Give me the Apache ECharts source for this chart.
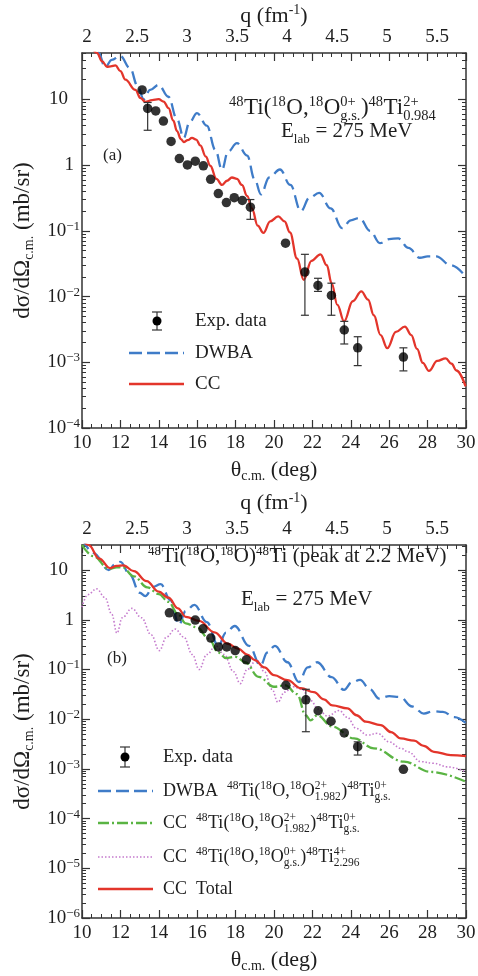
<!DOCTYPE html>
<html><head><meta charset="utf-8">
<script src="https://cdn.jsdelivr.net/npm/echarts@6/dist/echarts.min.js"></script>
<style>html,body{margin:0;padding:0;background:#fff}#c{width:478px;height:976px}</style>
</head><body><div id="c"></div>
<script>
// ---------- data ----------
const thetaTicks = [10,12,14,16,18,20,22,24,26,28,30];
const qTicks = [2,2.5,3,3.5,4,4.5,5,5.5];
const yDecadesA = [1e-4,1e-3,1e-2,1e-1,1,10];
const yDecadesB = [1e-6,1e-5,1e-4,1e-3,1e-2,1e-1,1,10];

// panel (a)
const expA = [[13.13,14],[13.42,7.3],[13.84,6.7],[14.24,4.7],[14.64,2.3],[15.07,1.26],[15.49,1.01],[15.9,1.15],[16.32,0.98],[16.7,0.61],[17.1,0.37],[17.52,0.27],[17.93,0.32],[18.35,0.29],[18.77,0.23],[20.6,0.065],[21.61,0.0236],[22.29,0.0148],[22.99,0.0104],[23.66,0.0031],[24.36,0.00166],[26.74,0.0012]];
const errA = [[13.42,3.4,9],[18.77,0.15,0.3],[21.61,0.0052,0.044],[22.29,0.012,0.019],[22.99,0.0052,0.016],[23.66,0.0019,0.0042],[24.36,0.00089,0.00245],[26.74,0.00074,0.00166]];
const dwbaA = [[10.3,90],[10.85,52],[11.21,31],[11.55,40],[11.99,46],[12.5,30],[12.9,16],[13.21,10.1],[13.55,14],[13.99,16.7],[14.5,11],[14.95,5],[15.3,2.6],[15.6,4.5],[15.99,6.2],[16.5,4],[16.95,1.7],[17.29,0.85],[17.6,1.6],[18.07,2.16],[18.6,1.4],[19.0,0.6],[19.32,0.36],[19.75,0.65],[20.31,0.86],[20.85,0.5],[21.4,0.2],[21.85,0.32],[22.35,0.38],[22.95,0.22],[23.55,0.11],[24.0,0.145],[24.45,0.158],[25.0,0.1],[25.52,0.065],[26.0,0.075],[26.47,0.077],[27.0,0.055],[27.6,0.039],[28.0,0.041],[28.45,0.041],[29.2,0.03],[30.0,0.02]];
const ccA = [[10.3,90],[10.78,51],[11.05,38],[11.3,31.5],[11.5,32],[11.74,33],[12.0,27],[12.26,20],[12.78,14],[13.05,10.5],[13.3,9.2],[13.65,9.8],[13.99,10.1],[14.25,9.3],[14.51,7.4],[14.75,4.8],[14.95,3.3],[15.15,2.5],[15.3,2.25],[15.5,2.4],[15.73,2.6],[15.95,2.45],[16.16,2.0],[16.45,1.35],[16.68,0.98],[17.0,0.62],[17.29,0.5],[17.55,0.58],[17.81,0.65],[18.07,0.62],[18.33,0.5],[18.6,0.34],[18.85,0.22],[19.15,0.12],[19.45,0.093],[19.8,0.14],[20.22,0.166],[20.55,0.14],[20.83,0.095],[21.2,0.038],[21.55,0.018],[21.95,0.035],[22.42,0.044],[22.75,0.03],[23.0,0.016],[23.3,0.0075],[23.65,0.0042],[24.1,0.0085],[24.55,0.012],[24.9,0.009],[25.2,0.0052],[25.55,0.0026],[25.9,0.00164],[26.35,0.0029],[26.82,0.0035],[27.15,0.0026],[27.45,0.0016],[27.75,0.00098],[28.07,0.00074],[28.5,0.00105],[28.94,0.00115],[29.25,0.00095],[29.5,0.00075],[29.98,0.00043]];

// panel (b)
const expB = [[14.55,1.38],[14.98,1.15],[15.9,0.99],[16.3,0.66],[16.71,0.43],[17.11,0.285],[17.54,0.285],[17.98,0.24],[18.56,0.157],[20.62,0.048],[21.66,0.0245],[22.3,0.0148],[22.97,0.0091],[23.66,0.0053],[24.36,0.0028],[26.74,0.00098]];
const errB = [[21.66,0.0056,0.04],[24.36,0.0019,0.0035]];
const dwbaB = [[10.0,45],[10.6,22],[11.4,10],[11.7,13],[12.0,14.7],[12.5,8],[13.0,3.5],[13.3,3.0],[13.7,4.6],[14.1,5.2],[14.6,2.5],[15.05,0.8],[15.4,1.5],[15.85,2.0],[16.5,0.9],[17.1,0.3],[17.5,0.55],[17.95,0.75],[18.7,0.3],[19.3,0.12],[19.65,0.22],[20.05,0.3],[20.7,0.14],[21.3,0.056],[21.75,0.11],[22.25,0.14],[23.0,0.07],[23.65,0.039],[24.05,0.055],[24.48,0.062],[25.0,0.04],[25.47,0.026],[26.0,0.029],[26.55,0.028],[27.2,0.018],[27.8,0.013],[28.3,0.0145],[28.8,0.014],[29.4,0.011],[30.0,0.0083]];
const ccTotB = [[10.0,42],[10.35,31.8],[10.9,17],[11.46,11],[11.8,12.2],[12.15,12.5],[12.7,9.5],[13.37,6.0],[13.99,3.7],[14.5,2.8],[15.0,1.7],[15.4,1.15],[16.1,0.95],[16.9,0.56],[17.6,0.33],[18.15,0.26],[18.6,0.2],[19.0,0.155],[19.5,0.11],[20.0,0.077],[20.7,0.061],[21.4,0.042],[22.08,0.035],[22.6,0.025],[23.04,0.019],[23.83,0.0165],[24.3,0.012],[24.78,0.0089],[25.56,0.0076],[26.1,0.0055],[26.6,0.0041],[27.3,0.0037],[27.8,0.0029],[28.33,0.0022],[29.2,0.0019],[30.0,0.0018]];
const ccGB = [[10.0,32],[10.6,19],[11.4,10.5],[11.8,11.3],[12.1,11.5],[12.7,7.5],[13.4,4.5],[14.0,3.3],[14.5,2.3],[15.0,1.3],[15.4,0.85],[16.0,0.7],[16.6,0.42],[17.1,0.22],[17.5,0.17],[18.0,0.18],[18.5,0.14],[19.2,0.071],[20.0,0.045],[20.6,0.048],[21.2,0.032],[21.65,0.012],[21.9,0.0095],[22.25,0.012],[23.04,0.0071],[24.17,0.0041],[25.2,0.0026],[26.77,0.0014],[28.16,0.00087],[30.0,0.00055]];
const ccMB = [[10.0,1.8],[10.3,3.2],[10.76,4.2],[11.2,2.8],[11.55,1.3],[11.82,0.54],[12.1,1.1],[12.6,1.7],[13.1,1.1],[13.6,0.5],[14.03,0.24],[14.4,0.45],[14.85,0.65],[15.3,0.45],[15.75,0.2],[16.1,0.1],[16.5,0.2],[16.97,0.3],[17.4,0.2],[17.9,0.09],[18.24,0.052],[18.6,0.1],[19.1,0.155],[19.5,0.09],[19.9,0.04],[20.2,0.022],[20.55,0.035],[21.0,0.045],[21.45,0.04],[21.9,0.024],[22.3,0.016],[22.78,0.0115],[23.4,0.015],[23.8,0.011],[24.3,0.0065],[24.86,0.0048],[25.4,0.0052],[26.0,0.0035],[26.6,0.0026],[27.0,0.0022],[27.64,0.0014],[28.3,0.0013],[29.03,0.0011],[30.0,0.00087]];

// ---------- style ----------
const FF = '"Liberation Serif","Times New Roman",serif';
const TXT = '#1e1e1e';
const AX = '#333';
const BLUE = '#3f7cc8', RED = '#e3352b', GREEN = '#5ab443', MAG = '#c57bcd';

const cv = document.createElement('canvas').getContext('2d');
function tw(t, s){ cv.font = s + 'px ' + FF; return cv.measureText(t).width; }
function txt(t, x, base, s){
  return {type:'text', x:x, y:base - 0.34*s, z:100,
    style:{text:t, font:s+'px '+FF, fill:TXT, align:'left', verticalAlign:'middle', textAlign:'left', textVerticalAlign:'middle'}};
}
function formula(parts, x0, base, M, S){
  const els = []; let x = x0;
  for (const p of parts){
    if (typeof p === 'string'){ els.push(txt(p, x, base, M)); x += tw(p, M); }
    else {
      let w = 0;
      if (p.sup){ els.push(txt(p.sup, x, base - 0.40*M, S)); w = Math.max(w, tw(p.sup, S)); }
      if (p.sub){ els.push(txt(p.sub, x, base + 0.22*M, S)); w = Math.max(w, tw(p.sub, S)); }
      x += w + 0.5;
    }
  }
  return els;
}
function lineEl(x1,y1,x2,y2,color,w,dash){
  return {type:'line', z:100, shape:{x1,y1,x2,y2}, style:{stroke:color, lineWidth:w, lineDash:dash||null}};
}
function expMarker(cx, cy, top, bot){
  return [
    lineEl(cx, top, cx, bot, '#333', 1.2),
    lineEl(cx-5, top, cx+5, top, '#333', 1.2),
    lineEl(cx-5, bot, cx+5, bot, '#333', 1.2),
    {type:'circle', z:101, shape:{cx, cy, r:4.5}, style:{fill:'#000'}}
  ];
}

function decLabel(v){
  const l = Math.log10(v), e = Math.round(l);
  if (Math.abs(l - e) > 1e-6) return '';
  if (e === 1) return '{b|10}{p|}';
  if (e === 0) return '{b|1}{q|}';
  return '{b|10}{s|\u2212' + (-e) + '}';
}
const yRich = {
  b:{fontSize:19, fontFamily:FF, color:TXT, lineHeight:22},
  s:{fontSize:13, fontFamily:FF, color:TXT, lineHeight:12, verticalAlign:'top'},
  p:{width:12}, q:{width:6}
};
function minorVals(decades){
  const out = [];
  for (let i = 0; i < decades.length; i++){
    for (let k = 2; k <= 9; k++) out.push(decades[i]*k);
  }
  return out;
}

const G = [
  {left:82, top:53, width:384, height:375, ymin:1e-4, ymax:51, dec:yDecadesA, qGap:23},
  {left:82, top:545, width:384, height:373, ymin:1e-6, ymax:32, dec:yDecadesB, qGap:29}
];

const xAxes = [], yAxes = [];
const nameRich = (va) => ({a:{fontSize:22, fontFamily:FF, color:TXT, lineHeight:25}, s:{fontSize:14, fontFamily:FF, color:TXT, lineHeight:12, verticalAlign:va}});
G.forEach((g, gi) => {
  const common = {gridIndex:gi, type:'value', min:10, max:30, interval:2,
    axisLine:{show:true, lineStyle:{color:AX, width:1.5}},
    splitLine:{show:false}, minorSplitLine:{show:false}};
  xAxes.push(Object.assign({}, common, {position:'bottom',
    axisTick:{show:true, inside:true, length:8, lineStyle:{color:AX, width:1.2}},
    minorTick:{show:true, splitNumber:4, length:4, lineStyle:{color:AX, width:1}},
    axisLabel:{show:true, margin:6, fontSize:19, fontFamily:FF, color:TXT},
    name:'{a|\u03b8}{s|c.m.}{a| (deg)}', nameLocation:'middle', nameGap:30,
    nameTextStyle:{rich:nameRich('bottom')}
  }));
  xAxes.push(Object.assign({}, common, {position:'top',
    axisTick:{show:true, inside:true, length:8, lineStyle:{color:AX, width:1.2}},
    minorTick:{show:true, splitNumber:4, length:4, lineStyle:{color:AX, width:1}},
    axisLabel:{show:false}
  }));
  xAxes.push({gridIndex:gi, type:'value', position:'top', min:1.95, max:5.79,
    axisLine:{show:false}, axisTick:{show:false}, splitLine:{show:false},
    axisLabel:{show:true, margin:6, fontSize:19, fontFamily:FF, color:TXT, customValues:qTicks,
      formatter: v => (Math.abs(v*2 - Math.round(v*2)) < 1e-6 ? String(v) : '')},
    name:'{a|q (fm}{s|-1}{a|)}', nameLocation:'middle', nameGap:g.qGap,
    nameTextStyle:{rich:nameRich('top')}
  });
  const yc = {gridIndex:gi, type:'log', logBase:10, min:g.ymin, max:g.ymax, splitLine:{show:false}, minorSplitLine:{show:false}};
  yAxes.push(Object.assign({}, yc, {position:'left',
    axisLine:{show:true, lineStyle:{color:AX, width:1.5}},
    axisTick:{show:true, inside:true, length:8, customValues:g.dec, lineStyle:{color:AX, width:1.2}},
    axisLabel:{show:true, margin:2, formatter:decLabel, rich:yRich, customValues:g.dec},
    name:'{a|d\u03c3/d\u03a9}{s|c.m.}{a| (mb/sr)}', nameLocation:'middle', nameRotate:90, nameGap:41,
    nameTextStyle:{rich:{a:{fontSize:23, fontFamily:FF, color:TXT, lineHeight:26}, s:{fontSize:14, fontFamily:FF, color:TXT, lineHeight:12, verticalAlign:'bottom'}}}
  }));
  yAxes.push(Object.assign({}, yc, {position:'left', axisLine:{show:false},
    axisTick:{show:true, inside:true, length:4, customValues:minorVals(g.dec), lineStyle:{color:AX, width:1}},
    axisLabel:{show:false}}));
  yAxes.push(Object.assign({}, yc, {position:'right',
    axisLine:{show:true, lineStyle:{color:AX, width:1.5}},
    axisTick:{show:true, inside:true, length:8, customValues:g.dec, lineStyle:{color:AX, width:1.2}},
    axisLabel:{show:false}}));
  yAxes.push(Object.assign({}, yc, {position:'right', axisLine:{show:false},
    axisTick:{show:true, inside:true, length:4, customValues:minorVals(g.dec), lineStyle:{color:AX, width:1}},
    axisLabel:{show:false}}));
});

function lineS(data, xi, yi, color, w, type, z){
  return {type:'line', data, xAxisIndex:xi, yAxisIndex:yi, showSymbol:false, symbol:'none',
    smooth:0.4, smoothMonotone:'x', clip:true, z:z||3, silent:true,
    lineStyle:{color, width:w, type:type||'solid'}};
}
function errS(data, xi, yi){
  return {type:'custom', data, xAxisIndex:xi, yAxisIndex:yi, z:8, silent:true, clip:true,
    encode:{x:0, y:[1,2]},
    renderItem(params, api){
      const x = api.value(0), lo = api.value(1), hi = api.value(2);
      const p1 = api.coord([x, lo]), p2 = api.coord([x, hi]); const c = 4;
      const st = {stroke:'#333', lineWidth:1.2};
      return {type:'group', children:[
        {type:'line', shape:{x1:p1[0], y1:p1[1], x2:p2[0], y2:p2[1]}, style:st},
        {type:'line', shape:{x1:p1[0]-c, y1:p1[1], x2:p1[0]+c, y2:p1[1]}, style:st},
        {type:'line', shape:{x1:p2[0]-c, y1:p2[1], x2:p2[0]+c, y2:p2[1]}, style:st}
      ]};
    }};
}
function expS(data, xi, yi){
  return {type:'scatter', data, xAxisIndex:xi, yAxisIndex:yi, symbol:'circle', symbolSize:9.5, z:10, silent:true,
    itemStyle:{color:'#000'}};
}

const series = [
  lineS(dwbaA, 0, 0, BLUE, 2.3, [13,6], 3),
  lineS(ccA, 0, 0, RED, 2.3, 'solid', 4),
  errS(errA, 0, 0),
  expS(expA, 0, 0),
  lineS(dwbaB, 3, 4, BLUE, 2.3, [13,6], 3),
  lineS(ccMB, 3, 4, MAG, 1.6, [1.5,2], 3),
  lineS(ccGB, 3, 4, GREEN, 2.3, [11,3,2,3], 4),
  lineS(ccTotB, 3, 4, RED, 2.3, 'solid', 5),
  errS(errB, 3, 4),
  expS(expB, 3, 4)
];

// ---------- annotations / legends ----------
let gfx = [];
gfx = gfx.concat(formula([{sup:'48'},'Ti(',{sup:'18'},'O,',{sup:'18'},'O',{sup:'0+',sub:'g.s.'},')',{sup:'48'},'Ti',{sup:'2+',sub:'0.984'}], 229, 116, 23, 14.5));
gfx = gfx.concat(formula(['E',{sub:'lab'},' = 275 MeV'], 281, 139, 21, 13));
gfx.push(txt('(a)', 103, 161, 17));
gfx = gfx.concat(expMarker(157, 321, 312, 330));
gfx.push(txt('Exp. data', 195, 327, 19));
gfx.push(lineEl(129, 353, 184, 353, BLUE, 2.3, [13,5]));
gfx.push(txt('DWBA', 195, 359, 19));
gfx.push(lineEl(129, 384, 184, 384, RED, 2.3));
gfx.push(txt('CC', 195, 390, 19));

gfx = gfx.concat(formula([{sup:'48'},'Ti(',{sup:'18'},'O,',{sup:'18'},'O)',{sup:'48'},'Ti (peak at 2.2 MeV)'], 148, 564, 21, 13));
gfx = gfx.concat(formula(['E',{sub:'lab'},' = 275 MeV'], 241, 607, 21, 13));
gfx.push(txt('(b)', 107, 664, 17));
gfx = gfx.concat(expMarker(125, 757, 747, 767));
gfx.push(txt('Exp. data', 163, 763, 18.5));
gfx.push(lineEl(98, 791, 153, 791, BLUE, 2.3, [13,5]));
gfx = gfx.concat(formula(['DWBA  ',{sup:'48'},'Ti(',{sup:'18'},'O,',{sup:'18'},'O',{sup:'2+',sub:'1.982'},')',{sup:'48'},'Ti',{sup:'0+',sub:'g.s.'}], 163, 797, 18, 11.5));
gfx.push(lineEl(98, 823, 153, 823, GREEN, 2.3, [11,3,2,3]));
gfx = gfx.concat(formula(['CC  ',{sup:'48'},'Ti(',{sup:'18'},'O,',{sup:'18'},'O',{sup:'2+',sub:'1.982'},')',{sup:'48'},'Ti',{sup:'0+',sub:'g.s.'}], 163, 829, 18, 11.5));
gfx.push(lineEl(98, 857, 153, 857, MAG, 1.6, [1.5,2]));
gfx = gfx.concat(formula(['CC  ',{sup:'48'},'Ti(',{sup:'18'},'O,',{sup:'18'},'O',{sup:'0+',sub:'g.s.'},')',{sup:'48'},'Ti',{sup:'4+',sub:'2.296'}], 163, 863, 18, 11.5));
gfx.push(lineEl(98, 889, 153, 889, RED, 2.3));
gfx = gfx.concat(formula(['CC  Total'], 163, 895, 18, 11.5));

const chart = echarts.init(document.getElementById('c'), null, {renderer:'canvas'});
chart.setOption({
  animation:false,
  backgroundColor:'#fff',
  grid: G.map(g => ({left:g.left, top:g.top, width:g.width, height:g.height, containLabel:false, outerBoundsMode:'none', show:false})),
  xAxis: xAxes,
  yAxis: yAxes,
  series,
  graphic:{elements:gfx}
});
</script></body></html>
